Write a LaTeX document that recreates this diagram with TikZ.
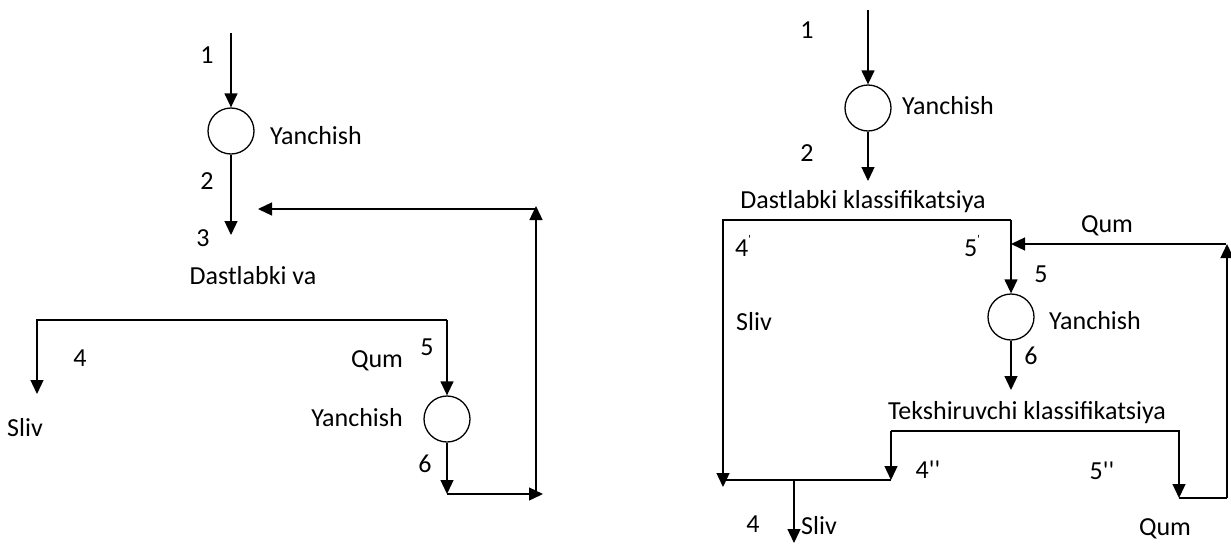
\documentclass[tikz,border=0pt]{standalone}
\usepackage{fontspec}
\setmainfont{Carlito}[Ligatures=TeXOff]
\usetikzlibrary{arrows.meta}
\begin{document}
\begin{tikzpicture}[x=1pt,y=-1pt,
  ln/.style={line width=1.3pt},
  arr/.style={ln,-{Triangle[length=14pt,width=13pt]}},
  mill/.style={circle,draw,line width=1.3pt,minimum size=46pt,inner sep=0pt},
  lbl/.style={inner sep=0pt,font=\fontsize{26}{30}\selectfont}]
\useasboundingbox (0,0) rectangle (1231,544);
\newcommand{\smp}{\raisebox{0.5em}{\fontsize{12}{12}\selectfont '}}
% ---------------- left scheme ----------------
\node[mill] (L1) at (231,131) {};
\coordinate (L1in) at (231,33);
\coordinate (L3) at (231,235);
\draw[arr] (L1in) -- (L1);
\draw[arr] (L1) -- (L3);
\node[lbl] (l1) at (207,55) {1};
\node[lbl,anchor=west] (ly1) at (270,136) {Yanchish};
\node[lbl] (l2) at (207,181) {2};
\node[lbl] (l3) at (203,238) {3};
\node[lbl] (ldv) at (253,276) {Dastlabki va};
\coordinate (LsL) at (37,320);
\coordinate (LsR) at (447,320);
\coordinate (LsE) at (37,394);
\draw[arr] (LsR) -- (LsL) -- (LsE);
\node[lbl] (l4) at (80,358) {4};
\node[lbl] (lsliv) at (25,428) {Sliv};
\node[mill] (L2) at (447,419) {};
\draw[arr] (LsR) -- (L2);
\node[lbl] (l5) at (427,347) {5};
\node[lbl] (lqum) at (377,361) {Qum};
\node[lbl,anchor=east] (ly2) at (403,418) {Yanchish};
\coordinate (L6) at (447,494);
\coordinate (L6r) at (543,494);
\draw[arr] (L2) -- (L6);
\draw[arr] (L6) -- (L6r);
\node[lbl] (l6) at (425,464) {6};
\coordinate (LrB) at (536,494);
\coordinate (LrT) at (536,206);
\coordinate (LrS) at (535,209);
\coordinate (LrE) at (258,209);
\draw[arr] (LrB) -- (LrT);
\draw[arr] (LrS) -- (LrE);
% ---------------- right scheme ----------------
\node[mill] (R1) at (868,108) {};
\coordinate (R1in) at (868,10);
\coordinate (R2o) at (868,181);
\draw[arr] (R1in) -- (R1);
\draw[arr] (R1) -- (R2o);
\node[lbl] (r1) at (807,30) {1};
\node[lbl,anchor=west] (ry1) at (902,106) {Yanchish};
\node[lbl] (r2) at (807,153) {2};
\node[lbl] (rdk) at (863,202) {Dastlabki klassifikatsiya};
\coordinate (RtL) at (723,220);
\coordinate (RtR) at (1011,220);
\coordinate (RsE) at (723,487);
\draw[arr] (RtR) -- (RtL) -- (RsE);
\node[lbl] (r4p) at (743,246) {4\smp};
\node[lbl] (r5p) at (972,246) {5\smp};
\node[lbl] (rsliv1) at (754,322) {Sliv};
\node[mill] (R2) at (1011,317) {};
\draw[arr] (RtR) -- (R2);
\node[lbl] (r5) at (1041,274) {5};
\node[lbl,anchor=west] (ry2) at (1049,321) {Yanchish};
\node[lbl] (rqum1) at (1107,226) {Qum};
\coordinate (RqB) at (1227,498);
\coordinate (RqT) at (1227,244);
\coordinate (RqS) at (1226,244);
\coordinate (RqE) at (1011,244);
\draw[arr] (RqB) -- (RqT);
\draw[arr] (RqS) -- (RqE);
\coordinate (R6) at (1011,390);
\draw[arr] (R2) -- (R6);
\node[lbl] (r6) at (1031,356) {6};
\node[lbl] (rtk) at (1027,413) {Tekshiruvchi klassifikatsiya};
\coordinate (RkL) at (891,431);
\coordinate (RkR) at (1179,431);
\coordinate (Rk4) at (891,480);
\coordinate (Rk5) at (1179,498);
\draw[arr] (RkL) -- (RkR) -- (Rk5);
\draw[arr] (RkL) -- (Rk4);
\draw[ln] (Rk5) -- (RqB);
\node[lbl] (r4pp) at (928,470) {4''};
\node[lbl] (r5pp) at (1102,471) {5''};
\coordinate (RbL) at (723,480);
\draw[ln] (RbL) -- (Rk4);
\coordinate (RsT) at (794,480);
\coordinate (RsB) at (794,543);
\draw[arr] (RsT) -- (RsB);
\node[lbl] (r4) at (753,524) {4};
\node[lbl] (rsliv2) at (819,526) {Sliv};
\node[lbl] (rqum2) at (1165,529) {Qum};
\end{tikzpicture}
\end{document}
